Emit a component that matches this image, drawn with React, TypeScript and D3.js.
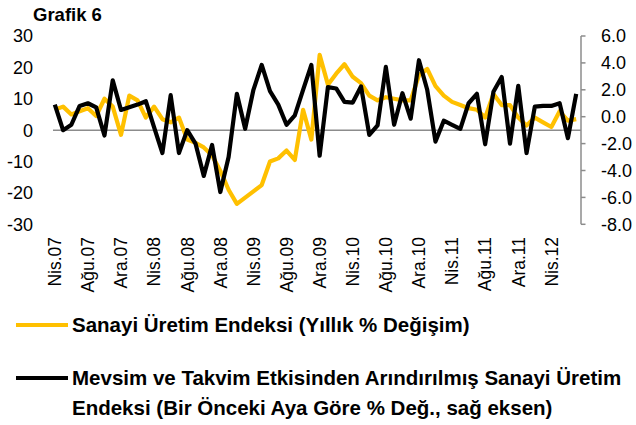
import { useMemo } from 'react';
import * as d3 from 'd3';

// Nisan 2007 - Temmuz 2012, aylık
const monthNames = ['Oca', 'Şub', 'Mar', 'Nis', 'May', 'Haz', 'Tem', 'Ağu', 'Eyl', 'Eki', 'Kas', 'Ara'];
const startYear = 2007;
const startMonth = 3; // Nisan
const nMonths = 64;
const categories: string[] = d3.range(nMonths).map(i => {
  const m = startMonth + i;
  const y = startYear + Math.floor(m / 12);
  return `${monthNames[m % 12]}.${String(y % 100).padStart(2, '0')}`;
});

// Sanayi Üretim Endeksi (Yıllık % Değişim) - sol eksen
const annualChange = [
  6.5, 7.5, 5, 6, 7, 4.5, 10, 7.5, -1.5, 11, 9.5, 4, 7.5, 3.5, 2.5, 4,
  -3, -4, -5.5, -8, -13, -19, -23.5, -21.5, -19.5, -17.5, -10, -9, -6.5, -9.5, 6.5, -3,
  24, 14.5, 18, 21, 17, 15, 11, 9.5, 10.5, 10, 9.5, 9.5, 17.5, 19.5, 14, 11,
  9, 8, 7, 6.5, 4, 11.5, 8, 8, 4, 1.5, 4, 2.5, 1, 6, 3, 3.5,
];

// Mevsim ve takvim etkisinden arındırılmış, aylık % değişim - sağ eksen
const monthlyChange = [
  0.9, -1.0, -0.6, 0.8, 1.0, 0.7, -1.4, 2.7, 0.5, 0.7, 0.9, 1.15, -0.8, -2.7, 1.6, -2.7,
  -1.0, -2.0, -4.4, -2.1, -5.6, -3.0, 1.7, -0.9, 2.0, 3.85, 1.9, 0.9, -0.6, 0.1, 2.0, 3.85,
  -2.9, 2.2, 2.1, 1.1, 1.05, 2.25, -1.35, -0.65, 3.7, -0.6, 1.75, -0.15, 4.2, 2.0, -1.85, -0.3,
  -0.6, -0.9, 1.0, 1.7, -2.05, 1.85, 2.95, -2.0, 2.3, -2.7, 0.75, 0.8, 0.8, 1.0, -1.6, 1.7,
];

const leftTicks = [30, 20, 10, 0, -10, -20, -30];
const rightTicks = [6, 4, 2, 0, -2, -4, -6, -8];

const legend1 = 'Sanayi Üretim Endeksi (Yıllık % Değişim)';
const legend2a = 'Mevsim ve Takvim Etkisinden Arındırılmış Sanayi Üretim';
const legend2b = 'Endeksi (Bir Önceki Aya Göre % Değ., sağ eksen)';

const YELLOW = '#FFC000';
const GRAY = '#8C8C8C';
const FONT = '"Liberation Sans", Arial, sans-serif';

export default function App() {
  const W = 636, H = 425;
  const top = 36, bottom = 224.3;
  const plotLeft = 53, plotRight = 581;

  const x = useMemo(() => d3.scalePoint<number>()
    .domain(d3.range(nMonths))
    .range([51.5, 579.5])
    .padding(0.4), []);
  const yL = d3.scaleLinear().domain([-30, 30]).range([bottom, top]);
  const yR = d3.scaleLinear().domain([-8, 6]).range([bottom, top]);

  const lineL = d3.line<number>().x((_, i) => x(i)!).y(d => yL(d));
  const lineR = d3.line<number>().x((_, i) => x(i)!).y(d => yR(d));

  return (
    <svg width={W} height={H} style={{ position: 'absolute', left: 0, top: 0, background: '#fff' }}
      fontFamily={FONT}>
      <text x={33} y={21} fontSize={18.5} fontWeight="bold">Grafik 6</text>

      {/* sol eksen etiketleri */}
      {leftTicks.map(t => (
        <text key={'l' + t} x={33} y={yL(t)} dy="0.36em" textAnchor="end" fontSize={18}>{t}</text>
      ))}

      {/* sağ eksen */}
      <line x1={plotRight} x2={plotRight} y1={top} y2={bottom} stroke={GRAY} strokeWidth={1.5} />
      {rightTicks.map(t => (
        <g key={'r' + t}>
          <line x1={plotRight} x2={plotRight + 4.5} y1={yR(t)} y2={yR(t)} stroke={GRAY} strokeWidth={1.5} />
          <text x={601} y={yR(t)} dy="0.36em" fontSize={18}>{t.toFixed(1)}</text>
        </g>
      ))}

      {/* sıfır çizgisi */}
      <line x1={plotLeft} x2={plotRight} y1={yL(0)} y2={yL(0)} stroke={GRAY} strokeWidth={1.5} />

      {/* x etiketleri */}
      {categories.map((c, i) => i % 4 === 0 ? (
        <text key={c} transform={`translate(${x(i)},237) rotate(-90)`} dy="0.36em"
          textAnchor="end" fontSize={17.5}>{c}</text>
      ) : null)}

      <path d={lineL(annualChange) ?? ''} fill="none" stroke={YELLOW} strokeWidth={4.2} strokeLinejoin="round" />
      <path d={lineR(monthlyChange) ?? ''} fill="none" stroke="#000" strokeWidth={4.2} strokeLinejoin="round" />

      {/* lejant */}
      <line x1={16} x2={68} y1={325} y2={325} stroke={YELLOW} strokeWidth={4} />
      <text x={72} y={325} dy="0.36em" fontSize={20.5} fontWeight="bold">{legend1}</text>
      <line x1={16} x2={68} y1={378} y2={378} stroke="#000" strokeWidth={4} />
      <text x={72} y={378} dy="0.36em" fontSize={20.5} fontWeight="bold">{legend2a}</text>
      <text x={72} y={408} dy="0.36em" fontSize={20.5} fontWeight="bold">{legend2b}</text>
    </svg>
  );
}
